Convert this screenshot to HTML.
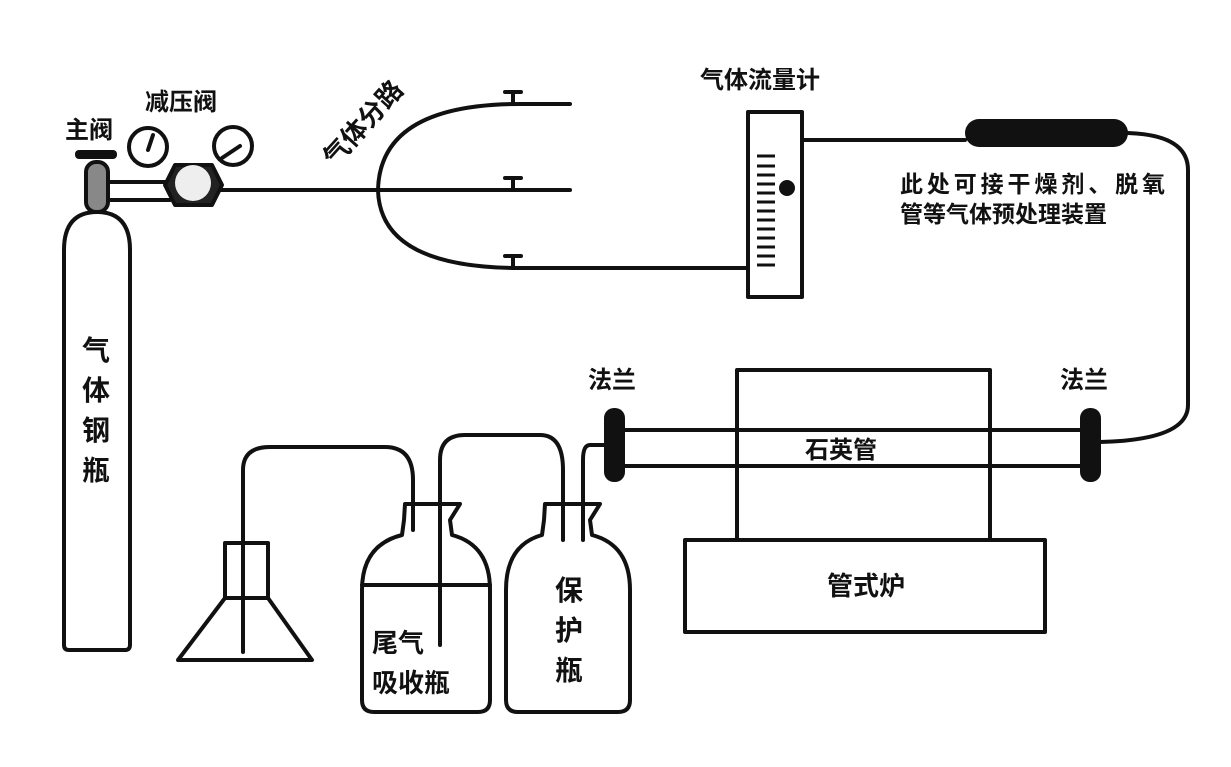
<!DOCTYPE html>
<html><head><meta charset="utf-8"><style>
html,body{margin:0;padding:0;background:#fff;}
svg{display:block}
text{font-family:"Liberation Sans","Noto Sans CJK SC",sans-serif;font-weight:bold;fill:#111;}
</style></head><body>
<svg width="1231" height="767" viewBox="0 0 1231 767" xmlns="http://www.w3.org/2000/svg">
<g fill="none" stroke="#111" stroke-width="4" stroke-linejoin="round" stroke-linecap="round">
<path d="M64 645 V250 Q64 212 97 212 Q130 212 130 250 V645 Q130 650 125 650 H69 Q64 650 64 645 Z"/>
<rect x="86" y="162" width="22" height="50" rx="10" fill="#888"/>
<path d="M108 182 H170 M108 200 H170"/>
<circle cx="148" cy="147" r="19" fill="#fff"/>
<path d="M148 150 L153 135"/>
<circle cx="233" cy="146" r="19" fill="#fff"/>
<path d="M222 158 L240 146"/>
<path d="M175 165 H212 L222 185 L212 205 H175 L165 185 Z" fill="#222"/>
<circle cx="193" cy="183" r="18" fill="#eee" stroke="none"/>
<path d="M220 190 H570"/>
<path d="M570 104 H520 Q380 104 378 190 Q380 268 520 268 H748"/>
<path d="M513 92 V104 M505 92 H521 M513 178 V190 M505 178 H521 M513 256 V268 M505 256 H521"/>
<rect x="748" y="112" width="54" height="185" fill="#fff"/>
<path d="M803 140 H965"/>
<path d="M1128 133 Q1188 135 1188 170 V405 Q1188 440 1100 442"/>
<rect x="737" y="370" width="253" height="170"/>
<rect x="685" y="540" width="360" height="92"/>
<path d="M612 430 H1090 M612 466 H1090"/>
<path d="M606 445 H590 Q583 445 583 460 V540"/>
<path d="M243 652 V470 Q243 447 270 447 H385 Q413 447 413 480 V530"/>
<path d="M440 645 V460 Q440 435 465 435 H540 Q563 435 563 470 V540"/>
<path d="M405 504 H460 L450 520 L452 535 Q490 545 490 590 V700 Q490 712 478 712 H374 Q362 712 362 700 V590 Q362 545 402 535 L404 520 Z"/>
<path d="M362 585 H490"/>
<path d="M545 504 H600 L590 520 L592 535 Q630 545 630 590 V700 Q630 712 618 712 H518 Q506 712 506 700 V590 Q506 545 542 535 L544 520 Z"/>
<path d="M225 543 H268 V598 L312 660 H178 L225 598 Z"/>
<path d="M225 598 H268"/>
</g>
<rect x="75" y="150" width="42" height="9" rx="4" fill="#111"/>
<rect x="965" y="119" width="163" height="28" rx="14" fill="#111"/>
<rect x="604" y="408" width="21" height="74" rx="10" fill="#111"/>
<rect x="1080" y="408" width="21" height="74" rx="10" fill="#111"/>
<circle cx="787" cy="188" r="8" fill="#111"/>
<g stroke="#111" stroke-width="3">
<path d="M757 156H775M757 166H775M757 175H775M757 184H775M757 193H775M757 202H775M757 211H775M757 220H775M757 229H775M757 238H775M757 247H775M757 256H775M757 265H775"/>
</g>
<text x="65" y="138" font-size="24">主阀</text>
<text x="145" y="110" font-size="24">减压阀</text>
<text x="0" y="0" font-size="26" transform="translate(335 168) rotate(-48)">气体分路</text>
<text x="700" y="88" font-size="24">气体流量计</text>
<text x="900" y="192" font-size="23" textLength="265">此处可接干燥剂、脱氧</text>
<text x="900" y="222" font-size="23">管等气体预处理装置</text>
<text x="588" y="388" font-size="24">法兰</text>
<text x="1060" y="388" font-size="24">法兰</text>
<text x="805" y="458" font-size="24">石英管</text>
<text x="827" y="595" font-size="26">管式炉</text>
<text x="82" y="360" font-size="28">气</text>
<text x="82" y="400" font-size="28">体</text>
<text x="82" y="440" font-size="28">钢</text>
<text x="82" y="480" font-size="28">瓶</text>
<text x="372" y="652" font-size="26">尾气</text>
<text x="372" y="692" font-size="26">吸收瓶</text>
<text x="555" y="600" font-size="28">保</text>
<text x="555" y="640" font-size="28">护</text>
<text x="555" y="680" font-size="28">瓶</text>
</svg>
</body></html>
